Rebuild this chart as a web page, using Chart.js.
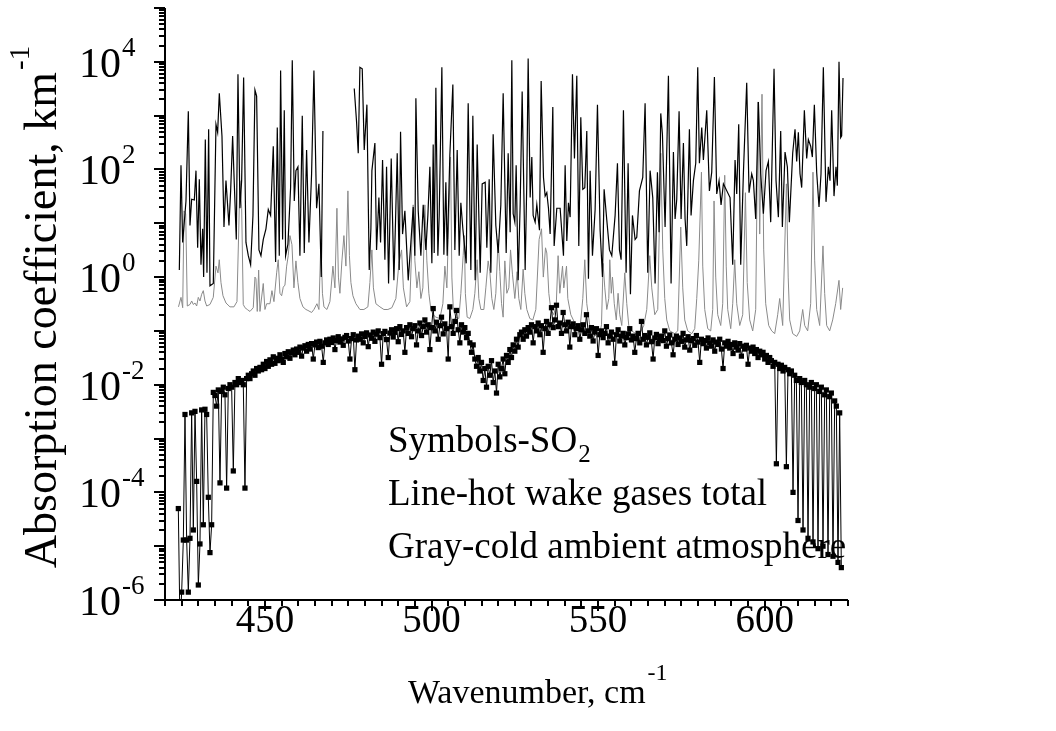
<!DOCTYPE html>
<html><head><meta charset="utf-8">
<script src="https://cdn.jsdelivr.net/npm/chart.js@4"></script>
<style>html,body{margin:0;padding:0;background:#fff}canvas{display:block}</style>
</head><body>
<canvas id="c" width="1056" height="731"></canvas>
<script>
// ---------- tick labels / texts ----------
const xMajorTicks = [450, 500, 550, 600];
const yLabelExponents = [-6, -4, -2, 0, 2, 4];
const legendLines = ["Symbols-SO", "Line-hot wake gases total", "Gray-cold ambient atmosphere"];

// ---------- SO2 (symbols) ----------
const so2Wn = [
424,424.5,425,425.5,426,426.5,427,427.5,428,428.5,
429,429.5,430,430.5,431,431.5,432,432.5,433,433.5,
434,434.5,435,435.5,436,436.5,437,437.5,438,438.5,
439,439.5,440,440.5,441,441.5,442,442.5,443,443.5,
444,444.5,445,445.5,446,446.5,447,447.5,448,448.5,
449,449.5,450,450.5,451,451.5,452,452.5,453,453.5,
454,454.5,455,455.5,456,456.5,457,457.5,458,458.5,
459,459.5,460,460.5,461,461.5,462,462.5,463,463.5,
464,464.5,465,465.5,466,466.5,467,467.5,468,468.5,
469,469.5,470,470.5,471,471.5,472,472.5,473,473.5,
474,474.5,475,475.5,476,476.5,477,477.5,478,478.5,
479,479.5,480,480.5,481,481.5,482,482.5,483,483.5,
484,484.5,485,485.5,486,486.5,487,487.5,488,488.5,
489,489.5,490,490.5,491,491.5,492,492.5,493,493.5,
494,494.5,495,495.5,496,496.5,497,497.5,498,498.5,
499,499.5,500,500.5,501,501.5,502,502.5,503,503.5,
504,504.5,505,505.5,506,506.5,507,507.5,508,508.5,
509,509.5,510,510.5,511,511.5,512,512.5,513,513.5,
514,514.5,515,515.5,516,516.5,517,517.5,518,518.5,
519,519.5,520,520.5,521,521.5,522,522.5,523,523.5,
524,524.5,525,525.5,526,526.5,527,527.5,528,528.5,
529,529.5,530,530.5,531,531.5,532,532.5,533,533.5,
534,534.5,535,535.5,536,536.5,537,537.5,538,538.5,
539,539.5,540,540.5,541,541.5,542,542.5,543,543.5,
544,544.5,545,545.5,546,546.5,547,547.5,548,548.5,
549,549.5,550,550.5,551,551.5,552,552.5,553,553.5,
554,554.5,555,555.5,556,556.5,557,557.5,558,558.5,
559,559.5,560,560.5,561,561.5,562,562.5,563,563.5,
564,564.5,565,565.5,566,566.5,567,567.5,568,568.5,
569,569.5,570,570.5,571,571.5,572,572.5,573,573.5,
574,574.5,575,575.5,576,576.5,577,577.5,578,578.5,
579,579.5,580,580.5,581,581.5,582,582.5,583,583.5,
584,584.5,585,585.5,586,586.5,587,587.5,588,588.5,
589,589.5,590,590.5,591,591.5,592,592.5,593,593.5,
594,594.5,595,595.5,596,596.5,597,597.5,598,598.5,
599,599.5,600,600.5,601,601.5,602,602.5,603,603.5,
604,604.5,605,605.5,606,606.5,607,607.5,608,608.5,
609,609.5,610,610.5,611,611.5,612,612.5,613,613.5,
614,614.5,615,615.5,616,616.5,617,617.5,618,618.5,
619,619.5,620,620.5,621,621.5,622,622.5,623];
const so2Val = [
5e-5,3e-7,1.4e-6,1.3e-5,2.8e-3,1.3e-5,1.4e-6,1.4e-5,3.0e-3,2.0e-5,
3.2e-3,1.6e-4,1.9e-6,1.1e-5,3.4e-3,2.5e-5,3.5e-3,2.8e-3,8.1e-5,7.6e-6,
2.5e-5,7.2e-3,6.3e-3,4.0e-3,8.0e-3,1.5e-4,7.5e-3,9.0e-3,6.5e-3,1.2e-4,
8.5e-3,1.0e-2,9.0e-3,2.5e-4,1.1e-2,1.0e-2,1.3e-2,1.1e-2,1.2e-2,1.0e-2,
1.2e-4,1.3e-2,1.5e-2,1.3e-2,1.6e-2,1.8e-2,1.5e-2,2.0e-2,1.8e-2,2.1e-2,
1.9e-2,2.4e-2,2.0e-2,2.7e-2,2.2e-2,2.9e-2,2.4e-2,3.3e-2,2.5e-2,3.1e-2,
2.8e-2,3.6e-2,3.0e-2,2.6e-2,3.8e-2,3.3e-2,4.1e-2,3.1e-2,3.9e-2,4.4e-2,
3.6e-2,4.6e-2,4.0e-2,5.0e-2,3.4e-2,4.8e-2,5.3e-2,4.2e-2,5.6e-2,4.6e-2,
5.8e-2,3.0e-2,5.5e-2,6.2e-2,4.9e-2,6.4e-2,5.2e-2,2.6e-2,6.0e-2,6.8e-2,
5.6e-2,7.0e-2,6.1e-2,7.4e-2,4.5e-2,6.6e-2,7.8e-2,6.2e-2,7.1e-2,5.4e-2,
7.6e-2,8.2e-2,6.5e-2,3.0e-2,7.2e-2,8.5e-2,1.9e-2,6.8e-2,8.0e-2,7.0e-2,
8.8e-2,6.0e-2,7.9e-2,9.2e-2,5.1e-2,8.4e-2,7.3e-2,9.5e-2,6.4e-2,8.7e-2,
1.0e-1,7.5e-2,2.4e-2,8.9e-2,9.8e-2,6.9e-2,3.2e-2,9.1e-2,1.05e-1,7.7e-2,
9.4e-2,1.1e-1,6.3e-2,1.2e-1,8.6e-2,1.0e-1,4.0e-2,1.15e-1,9.0e-2,1.3e-1,
7.8e-2,1.1e-1,1.25e-1,5.5e-2,1.0e-1,1.4e-1,8.2e-2,1.2e-1,1.6e-1,9.5e-2,
1.3e-1,4.5e-2,1.15e-1,2.6e-1,1.0e-1,1.45e-1,7.0e-2,1.25e-1,1.8e-1,8.8e-2,
1.35e-1,1.1e-1,3.0e-2,2.8e-1,1.2e-1,9.0e-2,1.5e-1,2.4e-1,1.05e-1,6.0e-2,
1.3e-1,9.5e-2,1.15e-1,7.5e-2,9.0e-2,6.0e-2,4.0e-2,5.5e-2,3.0e-2,2.2e-2,
3.2e-2,1.8e-2,2.6e-2,1.2e-2,2.0e-2,9.0e-3,2.2e-2,1.5e-2,2.8e-2,1.1e-2,
1.8e-2,7.0e-3,2.4e-2,1.4e-2,2.0e-2,3.0e-2,1.6e-2,3.5e-2,2.6e-2,4.5e-2,
3.2e-2,5.5e-2,4.2e-2,7.0e-2,5.0e-2,8.5e-2,9.5e-2,7.0e-2,1.05e-1,8.0e-2,
1.15e-1,9.5e-2,1.3e-1,6.0e-2,1.2e-1,1.0e-1,1.4e-1,8.5e-2,1.25e-1,4.0e-2,
1.1e-1,1.5e-1,9.0e-2,1.3e-1,2.7e-1,1.15e-1,1.6e-1,3.0e-1,1.2e-1,1.4e-1,
9.0e-2,2.2e-1,1.3e-1,1.0e-1,1.45e-1,5.0e-2,1.2e-1,1.35e-1,8.5e-2,1.1e-1,
1.25e-1,7.0e-2,1.05e-1,1.3e-1,9.0e-2,2.0e-1,1.0e-1,8.0e-2,1.15e-1,6.5e-2,
9.5e-2,1.1e-1,3.5e-2,8.5e-2,1.0e-1,7.5e-2,9.0e-2,1.2e-1,6.0e-2,8.0e-2,
9.5e-2,7.0e-2,2.5e-2,8.5e-2,1.05e-1,6.5e-2,8.0e-2,9.0e-2,5.5e-2,7.5e-2,
8.8e-2,1.1e-1,6.8e-2,8.0e-2,4.0e-2,7.2e-2,9.0e-2,6.0e-2,1.5e-1,7.0e-2,
8.2e-2,5.5e-2,7.6e-2,9.2e-2,6.3e-2,3.0e-2,7.4e-2,8.6e-2,5.8e-2,7.0e-2,
8.0e-2,6.6e-2,1.0e-1,5.2e-2,7.2e-2,8.4e-2,6.0e-2,3.6e-2,7.0e-2,8.0e-2,
5.6e-2,7.4e-2,6.4e-2,9.0e-2,5.0e-2,6.8e-2,7.8e-2,4.4e-2,6.6e-2,7.2e-2,
5.4e-2,8.2e-2,6.2e-2,2.6e-2,7.0e-2,5.8e-2,6.6e-2,4.8e-2,7.4e-2,6.0e-2,
5.2e-2,6.8e-2,4.2e-2,6.2e-2,5.6e-2,7.0e-2,4.6e-2,2.0e-2,6.0e-2,5.2e-2,
6.4e-2,4.8e-2,5.6e-2,3.8e-2,6.0e-2,5.0e-2,4.4e-2,5.8e-2,3.4e-2,5.2e-2,
4.6e-2,5.4e-2,2.4e-2,4.8e-2,4.2e-2,5.0e-2,3.8e-2,4.5e-2,3.2e-2,4.2e-2,
3.6e-2,4.0e-2,3.0e-2,3.5e-2,2.6e-2,3.2e-2,2.8e-2,2.2e-2,2.6e-2,3.4e-4,
2.4e-2,2.0e-2,2.3e-2,1.8e-2,2.1e-2,3.0e-4,1.9e-2,1.6e-2,1.8e-2,1.0e-4,
1.5e-2,1.2e-2,3.0e-5,1.3e-2,1.1e-2,2.0e-5,1.2e-2,1.0e-2,1.4e-5,9.0e-3,
1.1e-2,1.2e-5,8.5e-3,1.0e-2,9.0e-6,7.5e-3,9.0e-3,1.0e-5,6.5e-3,8.0e-3,
7.0e-6,6.0e-3,7.0e-3,6.5e-6,5.0e-3,4.0e-3,5.0e-6,3.0e-3,4.0e-6];

// ---------- hot wake gases total (black line) ----------
const hotWn = [
424.3,424.8,425.3,426.3,427.0,427.5,428.0,428.8,429.3,429.8,
430.3,430.8,431.3,431.6,432.1,432.6,433.1,433.5,434.5,435.3,
435.8,436.3,437.1,437.7,438.3,439.2,439.7,440.3,440.8,441.4,
441.9,442.5,443.0,443.6,444.3,445.0,445.7,446.4,447.0,447.5,
448.2,448.8,449.5,450.3,451.0,451.7,452.5,453.2,453.7,454.3,
454.7,455.3,455.8,456.2,456.9,457.7,458.2,458.8,459.3,459.9,
460.5,461.2,461.8,462.5,463.2,464.0,464.7,465.5,466.2,466.9,
467.4,472.0,
476.8,477.5,478.0,478.5,479.2,479.8,480.6,481.3,481.8,482.1,
483.0,483.5,484.2,484.7,485.3,486.0,486.5,487.1,487.9,488.7,
489.2,489.7,490.3,490.7,491.3,492.0,493.0,493.8,494.5,495.0,
495.3,496.0,496.8,497.5,498.3,498.9,499.5,500.1,500.5,500.8,
501.3,501.9,502.3,503.1,503.7,504.3,504.7,505.5,506.4,507.0,
507.7,508.3,508.8,509.4,510.4,511.0,511.8,512.4,513.1,513.7,
514.6,515.2,516.1,516.6,517.3,517.8,518.5,519.3,520.0,520.8,
521.5,522.4,523.0,523.6,524.1,524.5,525.0,525.4,526.0,526.6,
527.2,528.1,528.6,529.0,529.6,530.1,530.5,531.1,531.6,532.4,
532.9,533.6,534.1,534.6,535.1,535.6,536.4,536.8,537.6,538.6,
539.6,540.1,540.6,541.1,541.6,542.3,542.9,543.6,544.2,544.8,
545.4,546.0,546.6,547.1,547.6,548.3,549.1,549.8,550.6,551.3,
551.8,552.6,553.4,554.1,555.1,555.8,556.4,556.9,557.6,558.4,
559.0,559.7,560.3,561.1,561.6,562.4,563.4,564.1,564.9,565.6,
566.4,567.1,567.8,568.3,568.8,569.3,570.1,571.1,571.9,572.6,
573.1,573.6,574.3,574.9,575.6,576.1,576.6,577.4,577.9,578.6,
579.3,579.9,580.4,581.1,581.6,582.6,583.4,584.1,584.9,585.6,
586.3,586.9,587.6,589.6,590.4,591.1,591.6,592.2,592.8,593.6,
594.6,595.3,596.1,596.6,597.3,598.1,598.8,599.6,600.4,601.1,
601.8,602.8,603.4,604.1,604.8,605.3,606.1,606.8,607.4,608.4,
609.1,609.6,610.1,610.6,611.1,611.9,612.6,613.1,613.8,614.3,
614.9,615.6,616.3,616.9,617.6,618.4,619.1,619.6,620.1,620.8,
621.4,621.8,622.3,622.8,623.1,623.5];
const hotVal = [
1.35,120,4.4,26,1200,9.1,28,27,95,3.5,
66,1.7,7.9,1.0,360,1.2,560,0.69,0.76,690,
490,2600,420,8.5,62,9.1,40,420,54,5.0,
5900,19,62,5100,4.4,2.5,1.7,14,3000,2300,
3.2,2.5,5.0,7.9,18,14,270,1.9,600,2.5,
6900,5.0,1260,2.5,4.1,46,10700,26,95,112,
2.5,1000,2.8,230,4.4,83,6900,19,54,1.0,
520,null,
3200,760,200,7900,7400,230,1600,1.35,7.9,95,
310,3.2,30,4.4,150,2.1,112,0.76,160,0.87,
11.5,200,1.35,500,6.3,17,0.87,4.4,20,2.5,
2100,17,2.5,22,3.2,14,112,1.8,290,2.8,
3300,2.5,14,7900,2.6,58,2.5,190,3800,3.2,
230,2.5,24,7.9,1.8,1700,1.35,1000,0.87,290,
1.2,54,58,3.5,66,1.2,450,9.1,2.8,22,
2600,2.8,200,6.8,10700,15,10.5,120,0.87,22,
2800,1.35,62,11500,30,170,14,10.5,22,7.4,
4400,71,32,37,19,6.3,1450,3.8,19,19,
2.5,120,4.7,24,13,5900,160,5500,3.8,930,
43,46,520,0.93,95,2.5,18,1600,7.4,1.0,
43,11.5,3.2,2.5,14,130,3.2,2.1,1260,1.2,
130,0.48,14,5.0,5.5,40,71,1700,1.2,95,
30,0.76,89,6.8,1100,450,8.5,5500,0.76,210,
12,28,1200,12,310,12,3.8,560,14,62,
130,7900,130,600,150,1260,40,89,5200,35,
62,22,54,30,1.7,150,35,690,1.7,83,
4100,37,83,62,12,1800,83,15,95,140,
10.5,7400,62,13,520,8.5,210,112,10.5,200,
560,140,490,83,46,1260,160,360,270,170,
1600,89,20,83,7900,25,112,62,1260,32,
112,50,10000,390,420,5000];

// ---------- cold ambient atmosphere (gray line) ----------
const coldWn = [
424.05,424.8,425.31,425.7,426.21,426.69,427.5,428.01,428.49,429.0,
429.51,429.99,430.5,431.01,431.49,432.0,432.51,433.5,434.49,435.3,
435.9,436.29,436.8,437.4,438.3,439.5,440.7,441.6,442.5,443.01,
443.49,444.0,444.69,445.5,446.49,447.0,447.3,447.69,448.11,448.5,
449.49,450.0,450.51,451.5,452.1,452.7,453.51,453.99,454.5,455.01,
455.49,456.0,456.51,456.99,457.5,458.1,458.7,459.3,459.9,460.5,
461.4,462.3,462.9,464.01,464.7,465.6,466.2,466.8,467.25,467.7,
468.6,469.5,470.4,471.0,471.6,472.05,472.5,473.1,473.7,474.3,
474.9,475.35,475.8,476.4,477.3,478.5,479.7,480.9,481.5,482.1,
482.55,483.3,484.5,485.7,486.9,488.1,489.3,490.2,491.01,491.55,
492.51,493.5,494.49,495.0,495.6,496.2,496.8,497.4,498.0,498.6,
499.2,499.8,500.49,501.3,502.5,503.4,504.0,504.6,504.99,505.71,
506.1,506.55,507.3,508.2,508.8,509.49,509.85,510.15,510.69,511.5,
512.4,513.0,513.69,514.2,514.8,515.7,516.3,516.99,517.5,518.1,
518.7,519.3,519.99,520.5,521.01,521.49,522.0,522.6,523.2,523.71,
524.31,525.0,525.69,526.2,526.8,527.49,528.0,528.6,529.5,530.4,
531.3,532.29,533.01,533.55,534.21,534.6,535.2,535.8,536.7,537.45,
537.99,538.5,539.31,539.7,540.51,540.9,541.8,543.0,543.81,544.5,
545.4,546.0,546.6,547.5,548.49,549.6,550.5,551.01,551.49,552.0,
552.6,553.2,553.5,553.95,554.31,554.85,555.45,555.99,556.5,557.1,
558.0,558.6,559.2,560.1,561.3,562.5,563.7,564.6,565.5,566.1,
567.0,567.9,568.8,569.4,570.0,570.6,571.5,573.0,573.9,574.8,
575.4,576.0,576.9,578.1,579.0,579.6,580.2,581.01,581.4,582.0,
582.9,583.8,584.4,584.79,585.3,585.9,586.8,587.4,588.0,588.45,
588.9,589.8,590.4,591.0,591.6,592.5,593.4,594.21,594.75,595.5,
596.4,597.3,597.99,598.5,599.19,599.7,600.3,601.2,602.1,603.0,
603.9,604.5,605.4,606.51,607.05,607.5,608.4,609.6,610.5,611.4,
612.0,612.9,613.8,614.49,615.0,615.6,616.5,617.49,618.0,618.6,
619.5,620.4,621.3,622.29,622.8,623.4];
const coldVal = [
0.28,0.42,0.27,17,15,0.29,0.31,0.36,0.31,0.33,
0.29,0.42,0.36,0.48,0.56,0.36,0.29,0.31,0.42,1.6,
1.2,2.1,0.79,0.45,0.33,0.28,0.28,0.35,62,19,
0.31,0.27,0.25,0.23,0.27,1.0,0.93,0.23,1.35,0.23,
0.76,0.25,0.32,0.32,0.56,0.35,1.2,2.1,0.5,0.45,
0.65,0.71,1.6,2.5,5.9,4.0,0.63,2.0,0.79,0.4,
0.28,0.25,0.24,0.22,0.25,0.32,0.25,5.0,0.5,0.28,
0.25,0.35,1.6,0.63,19,1.0,0.5,2.0,5.9,1.6,
40,2.5,0.79,0.45,0.32,0.25,0.25,0.28,0.79,3.2,
0.63,0.32,0.28,0.25,0.25,0.27,0.4,1.8,3.2,0.63,
0.28,0.35,22,2.0,0.63,1.26,0.4,0.63,22,2.0,
0.5,0.25,0.2,0.18,0.17,0.32,1.6,0.63,5.0,170,
1.0,0.25,0.18,0.17,0.5,2.5,5.9,0.5,0.18,0.17,
0.25,0.5,2.1,0.4,0.25,0.25,0.63,2.0,1.26,0.4,
0.25,0.5,5.0,1.26,0.32,0.18,2.0,0.5,0.63,3.2,
1.1,0.4,1.26,0.4,0.25,1.4,0.5,0.25,0.17,0.16,
0.25,5.0,7.9,1.0,3.5,2.8,0.5,0.25,0.2,0.32,
2.5,0.5,1.6,0.63,1.6,0.4,0.2,0.14,0.11,0.1,
0.4,2.1,0.32,0.126,0.089,0.079,0.089,0.13,1.8,0.63,
0.25,0.4,2.1,0.5,1.0,0.32,0.16,0.5,0.2,0.126,
1.2,0.32,0.126,0.1,0.089,0.089,0.126,0.25,2.5,0.63,
0.2,0.25,200,3.2,0.4,0.16,0.1,0.089,0.1,8.5,
0.63,0.16,0.1,0.089,0.11,0.4,2.0,89,1.6,0.25,
0.11,0.1,0.25,26,1.0,0.2,0.126,0.32,78,1.6,
0.25,0.11,0.32,2.1,0.32,0.126,0.2,37,0.79,0.16,
0.1,0.25,1800,6.3,2500,3.2,0.32,0.126,0.1,0.089,
0.2,0.4,0.126,54,1.0,0.16,0.089,0.079,0.1,0.25,
0.126,0.1,0.32,89,2.0,0.25,0.126,3.8,0.5,0.126,
0.1,0.16,0.32,0.87,0.25,0.63];

const pts = (xs, ys) => xs.map((x, i) => ({ x: x, y: ys[i] }));

const FONT = '"Liberation Serif","Times New Roman",serif';

const deco = {
  id: 'deco',
  afterDraw(chart) {
    const ctx = chart.ctx, xs = chart.scales.x, ys = chart.scales.y, ca = chart.chartArea;
    ctx.save();
    ctx.strokeStyle = '#000'; ctx.fillStyle = '#000'; ctx.lineWidth = 2;
    ctx.beginPath();
    ctx.moveTo(ca.left, ca.top); ctx.lineTo(ca.left, ca.bottom); ctx.lineTo(ca.right, ca.bottom);
    ctx.stroke();
    // x ticks
    for (let v = xs.min; v <= xs.max + 1e-9; v += 5) {
      const px = Math.round(xs.getPixelForValue(v));
      const major = xMajorTicks.includes(v);
      ctx.beginPath(); ctx.moveTo(px, ca.bottom); ctx.lineTo(px, ca.bottom + (major ? 11 : 6)); ctx.stroke();
    }
    // y ticks
    for (let d = -6; d <= 5; d++) {
      const py = Math.round(ys.getPixelForValue(Math.pow(10, d)));
      ctx.beginPath(); ctx.moveTo(ca.left, py); ctx.lineTo(ca.left - 11, py); ctx.stroke();
      if (d < 5) {
        for (let m = 2; m <= 9; m++) {
          const q = Math.round(ys.getPixelForValue(m * Math.pow(10, d)));
          ctx.beginPath(); ctx.moveTo(ca.left, q); ctx.lineTo(ca.left - 6, q); ctx.stroke();
        }
      }
    }
    // x labels
    ctx.font = '39px ' + FONT; ctx.textAlign = 'center'; ctx.textBaseline = 'alphabetic';
    xMajorTicks.forEach(v => ctx.fillText(String(v), xs.getPixelForValue(v), ca.bottom + 32));
    // y labels: 10^e
    yLabelExponents.forEach(e => {
      const py = ys.getPixelForValue(Math.pow(10, e));
      ctx.font = '42px ' + FONT; ctx.textAlign = 'right';
      ctx.fillText('10', 121, py + 15);
      ctx.font = '27px ' + FONT; ctx.textAlign = 'left';
      ctx.fillText(String(e), 122, py - 6);
    });
    // x title
    ctx.font = '34px ' + FONT; ctx.textAlign = 'left';
    const t1 = 'Wavenumber, cm', w1 = ctx.measureText(t1).width;
    const sx = 408;
    ctx.fillText(t1, sx, 703);
    ctx.font = '24px ' + FONT; ctx.fillText('-1', sx + w1 + 2, 680);
    // y title
    ctx.save();
    ctx.translate(56, (ca.top + ca.bottom) / 2 + 4);
    ctx.rotate(-Math.PI / 2);
    ctx.font = '46px ' + FONT;
    const t2 = 'Absorption coefficient, km', w3 = ctx.measureText(t2).width;
    ctx.font = '29px ' + FONT; const w4 = ctx.measureText('-1').width;
    const s2 = -(w3 + w4) / 2;
    ctx.font = '46px ' + FONT; ctx.textAlign = 'left'; ctx.fillText(t2, s2, 0);
    ctx.font = '29px ' + FONT; ctx.fillText('-1', s2 + w3 + 2, -27);
    ctx.restore();
    // legend text
    ctx.font = '37px ' + FONT; ctx.textAlign = 'left';
    ctx.fillText(legendLines[0], 388, 452);
    const wl = ctx.measureText(legendLines[0]).width;
    ctx.font = '25px ' + FONT; ctx.fillText('2', 388 + wl + 1, 462);
    ctx.font = '37px ' + FONT;
    ctx.fillText(legendLines[1], 388, 505);
    ctx.fillText(legendLines[2], 388, 558);
    ctx.restore();
  }
};

new Chart(document.getElementById('c'), {
  type: 'scatter',
  data: {
    datasets: [
      { label: 'SO2', data: pts(so2Wn, so2Val), showLine: true, borderColor: '#000', borderWidth: 1,
        backgroundColor: '#000', pointStyle: 'rect', pointRadius: 3.7, pointBorderWidth: 0, tension: 0 },
      { label: 'hot', data: pts(hotWn, hotVal), showLine: true, borderColor: '#000', borderWidth: 1.2,
        pointRadius: 0, spanGaps: false, tension: 0 },
      { label: 'cold', data: pts(coldWn, coldVal), showLine: true, borderColor: '#8a8a8a', borderWidth: 1,
        pointRadius: 0, tension: 0 }
    ]
  },
  options: {
    responsive: false, animation: false, devicePixelRatio: 1,
    layout: { padding: { left: 165, right: 208, top: 8, bottom: 131 } },
    scales: {
      x: { type: 'linear', min: 420, max: 625, display: false },
      y: { type: 'logarithmic', min: 1e-6, max: 1e5, display: false }
    },
    plugins: { legend: { display: false }, tooltip: { enabled: false } }
  },
  plugins: [deco]
});
</script>
</body></html>
